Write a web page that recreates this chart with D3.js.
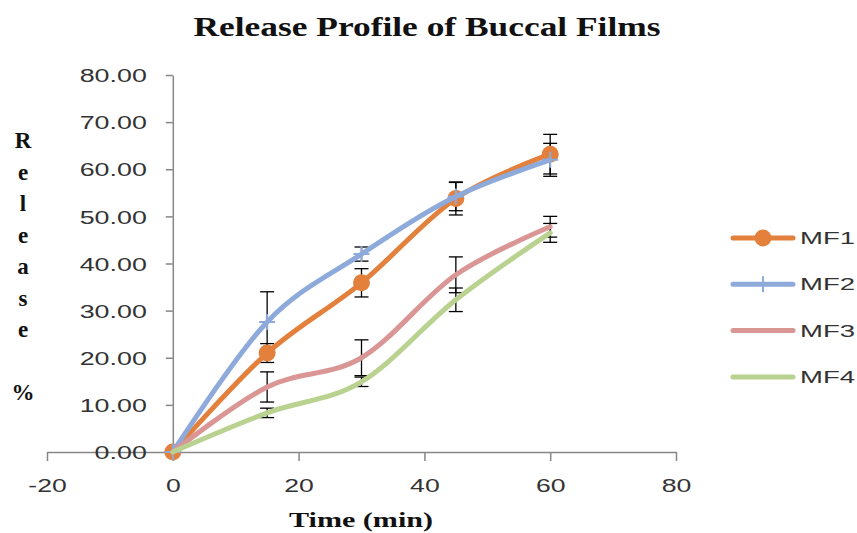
<!DOCTYPE html>
<html>
<head>
<meta charset="utf-8">
<script src="https://cdn.jsdelivr.net/npm/d3@7"></script>
<style>
  body { margin: 0; background: #fff; }
  svg { display: block; }
</style>
</head>
<body>
<div id="chart"></div>
<script>
// data
var times = [0, 15, 30, 45, 60];
var seriesNames = ["MF1", "MF2", "MF3", "MF4"];
var mf1 = [0, 21.0, 35.9, 53.8, 63.2];
var mf2 = [0, 27.6, 42.0, 54.2, 62.0];
var mf3 = [0, 13.8, 20.0, 37.6, 47.8];
var mf4 = [0, 8.3, 14.9, 32.3, 46.5];
var mf1Err = [0, 2.0, 3.0, 3.5, 4.2];
var mf2Err = [0, 6.4, 1.5, 3.0, 3.5];
var mf3Err = [0, 3.2, 3.8, 3.8, 2.2];
var mf4Err = [0, 1.0, 1.0, 2.5, 2.0];
var xTicks = [-20, 0, 20, 40, 60, 80];
var yTicks = [0, 10, 20, 30, 40, 50, 60, 70, 80];
var yLabelChars = ["R", "e", "l", "e", "a", "s", "e", "", "%"];

var width = 857,
    height = 533;

var colors = ["#e2803c", "#8eaadb", "#d99694", "#b9d28f"];
var markers = ["circle", "plus", "none", "none"];

var series = seriesNames.map(function (name, i) {
    var vals = [mf1, mf2, mf3, mf4][i];
    var errs = [mf1Err, mf2Err, mf3Err, mf4Err][i];
    return {
        name: name,
        color: colors[i],
        marker: markers[i],
        points: times.map(function (t, j) { return { t: t, v: vals[j], e: errs[j] }; })
    };
});

var x = d3.scaleLinear().domain([-20, 80]).range([47, 676]);
var y = d3.scaleLinear().domain([0, 80]).range([452, 75]);

var svg = d3.select("#chart").append("svg")
    .attr("width", width)
    .attr("height", height);

var axisColor = "#878787";

// title
svg.append("text")
    .attr("x", 427)
    .attr("y", 36)
    .attr("text-anchor", "middle")
    .attr("textLength", 467)
    .attr("lengthAdjust", "spacingAndGlyphs")
    .style("font-family", "'Liberation Serif', 'Times New Roman', serif")
    .style("font-weight", "bold")
    .style("font-size", "27px")
    .style("fill", "#111")
    .text("Release Profile of Buccal Films");

// x axis (crosses at y = 0); plain hyphen for negatives like Excel
var xAxis = svg.append("g")
    .attr("transform", "translate(0," + y(0) + ")")
    .call(d3.axisBottom(x).tickValues(xTicks).tickSize(9).tickSizeOuter(0).tickFormat(function (d) { return String(d); }));
xAxis.select(".domain").attr("stroke", axisColor).attr("stroke-width", 1.5);
xAxis.selectAll(".tick line").attr("stroke", axisColor).attr("stroke-width", 1.5);
xAxis.selectAll(".tick text")
    .attr("y", 0)
    .attr("dy", 0)
    .attr("transform", "translate(0,40) scale(1.4,1)")
    .style("font-family", "'Liberation Sans', Arial, sans-serif")
    .style("font-size", "19px")
    .style("fill", "#333");

// y axis (crosses at x = 0)
var yAxis = svg.append("g")
    .attr("transform", "translate(" + x(0) + ",0)")
    .call(d3.axisLeft(y).tickValues(yTicks).tickSize(7).tickSizeOuter(0).tickFormat(d3.format(".2f")));
yAxis.select(".domain").attr("stroke", axisColor).attr("stroke-width", 1.5);
yAxis.selectAll(".tick line").attr("stroke", axisColor).attr("stroke-width", 1.5);
yAxis.selectAll(".tick text")
    .attr("x", 0)
    .attr("dy", "0.36em")
    .attr("transform", "translate(-26,0) scale(1.45,1)")
    .style("font-family", "'Liberation Sans', Arial, sans-serif")
    .style("font-size", "18.5px")
    .style("fill", "#333");

// axis titles
svg.append("text")
    .attr("x", 361)
    .attr("y", 527)
    .attr("text-anchor", "middle")
    .attr("textLength", 144)
    .attr("lengthAdjust", "spacingAndGlyphs")
    .style("font-family", "'Liberation Serif', 'Times New Roman', serif")
    .style("font-weight", "bold")
    .style("font-size", "21px")
    .style("fill", "#111")
    .text("Time (min)");

svg.append("g").selectAll("text")
    .data(yLabelChars)
    .enter().append("text")
    .attr("x", 23)
    .attr("y", function (d, i) { return 148 + i * 31.5; })
    .attr("text-anchor", "middle")
    .style("font-family", "'Liberation Serif', 'Times New Roman', serif")
    .style("font-weight", "bold")
    .style("font-size", "23px")
    .style("fill", "#111")
    .text(function (d) { return d; });

// error bars under the lines
var errG = svg.append("g");
series.forEach(function (s) {
    var pts = s.points.filter(function (p) { return p.e > 0; });
    var g = errG.append("g").selectAll("g").data(pts).enter().append("g")
        .attr("stroke", "#000")
        .attr("stroke-width", 1.3);
    g.append("line")
        .attr("x1", function (d) { return x(d.t); })
        .attr("x2", function (d) { return x(d.t); })
        .attr("y1", function (d) { return y(d.v - d.e); })
        .attr("y2", function (d) { return y(d.v + d.e); });
    [-1, 1].forEach(function (sign) {
        g.append("line")
            .attr("x1", function (d) { return x(d.t) - 7; })
            .attr("x2", function (d) { return x(d.t) + 7; })
            .attr("y1", function (d) { return y(d.v + sign * d.e); })
            .attr("y2", function (d) { return y(d.v + sign * d.e); });
    });
});

// smoothed lines, like Excel's smoothing
var line = d3.line()
    .x(function (d) { return x(d.t); })
    .y(function (d) { return y(d.v); })
    .curve(d3.curveCardinal.tension(0));

function drawMarker(g, s, cx, cy) {
    if (s.marker === "circle") {
        g.append("circle")
            .attr("cx", cx).attr("cy", cy).attr("r", 8.5)
            .style("fill", s.color);
    } else if (s.marker === "plus") {
        g.append("path")
            .attr("d", "M" + (cx - 8) + "," + cy + "H" + (cx + 8) + "M" + cx + "," + (cy - 8) + "V" + (cy + 8))
            .style("stroke", s.color)
            .style("stroke-width", 2);
    }
}

// series order: later series sit on top, as in Excel
series.forEach(function (s) {
    var g = svg.append("g");
    g.append("path")
        .datum(s.points)
        .attr("d", line)
        .style("fill", "none")
        .style("stroke", s.color)
        .style("stroke-width", 5)
        .style("stroke-linecap", "round");
    s.points.forEach(function (p) { drawMarker(g, s, x(p.t), y(p.v)); });
});

// legend
var legend = svg.append("g").selectAll("g")
    .data(series)
    .enter().append("g")
    .attr("transform", function (d, i) { return "translate(733," + (238 + i * 46.3) + ")"; });

legend.append("line")
    .attr("x1", 0).attr("x2", 60)
    .style("stroke", function (d) { return d.color; })
    .style("stroke-width", 5)
    .style("stroke-linecap", "round");

legend.each(function (d) { drawMarker(d3.select(this), d, 30, 0); });

legend.append("text")
    .attr("x", 67)
    .attr("dy", "0.36em")
    .attr("textLength", 55)
    .attr("lengthAdjust", "spacingAndGlyphs")
    .style("font-family", "'Liberation Sans', Arial, sans-serif")
    .style("font-size", "17px")
    .style("fill", "#333")
    .text(function (d) { return d.name; });
</script>
</body>
</html>
